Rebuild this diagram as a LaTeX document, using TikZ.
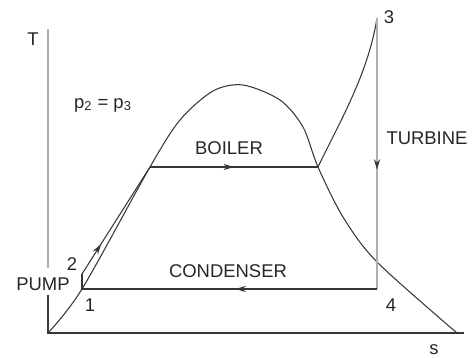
\documentclass[tikz,border=0pt]{standalone}
\usepackage{fontspec}
\setmainfont{Liberation Sans}
\usetikzlibrary{arrows.meta, positioning, decorations.markings}
\definecolor{linegray}{RGB}{55,55,55}
\definecolor{axisgray}{RGB}{175,175,175}

\begin{document}
\begin{tikzpicture}[x=0.02cm, y=-0.02cm,
  every node/.style={font=\fontsize{10.5}{12}\selectfont, text=black!85, inner sep=1pt},
  curve/.style={linegray, line width=0.6pt},
  shaft/.style={axisgray, line width=1.2pt},
  midarrow/.style={postaction={decorate, decoration={markings,
    mark=at position #1 with {\arrow{Stealth[length=6pt, width=3.5pt, color=linegray]}}}}}]
\useasboundingbox (0,0) rectangle (474,358);

% state points
\coordinate (o) at (48,333);
\coordinate (ttop) at (48,29);
\coordinate (tbot) at (48,268);
\coordinate (tlow) at (48,295);
\coordinate (send) at (464,333);
\coordinate (pt1) at (82,289);
\coordinate (pt2) at (82,274);
\coordinate (liq) at (150,167);
\coordinate (peak) at (243,85);
\coordinate (vap) at (318,167);
\coordinate (wet) at (377,262);
\coordinate (dend) at (457,333);
\coordinate (pt3) at (377,18);
\coordinate (pt4) at (377,289);

% axes
\draw[shaft] (ttop) -- (tbot);
\draw[curve] (tlow) -- (o) -- (send);

% saturation dome
\draw[curve] plot[smooth, tension=0.5] coordinates {(o) (pt1) (liq) (180,120) (213,91) (peak) (280,100) (303,127) (vap) (343,217) (wet) (dend)};

% cycle
\draw[curve] (pt1) -- (pt2);
\draw[curve, midarrow=0.28] (pt2) -- (liq);
\draw[curve, midarrow=0.5] (liq) -- (vap);
\draw[curve] (vap) .. controls (338,125) and (368,75) .. (pt3);
\draw[shaft, midarrow=0.56] (pt3) -- (pt4);
\draw[curve, midarrow=0.48] (pt4) -- (pt1);

% labels
\node (tlab) at (33,39) {T};
\node (slab) at (434,350) {s};
\node (plab) at (103,105) {p\textsubscript{2} = p\textsubscript{3}};
\node (boiler) at (229,148) {BOILER};
\node (cond) at (228,271) {CONDENSER};
\node (turb) at (427,138) {TURBINE};
\node (pump) at (43,284) {PUMP};
\node (n1) at (90,305) {1};
\node (n2) at (72,264) {2};
\node (n3) at (389,17) {3};
\node (n4) at (391,305) {4};
\end{tikzpicture}
\end{document}
